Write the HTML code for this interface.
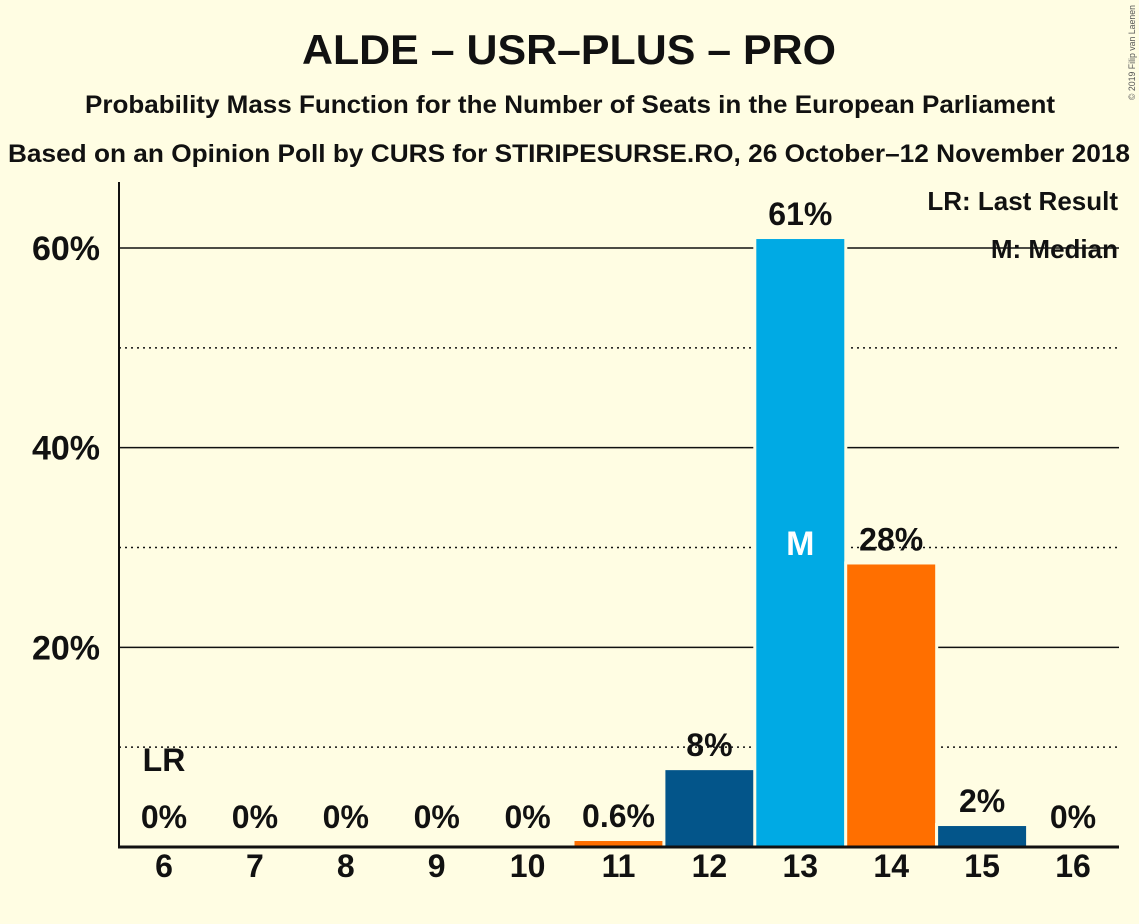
<!DOCTYPE html>
<html><head><meta charset="utf-8"><style>
html,body{margin:0;padding:0;background:#FFFDE3;}
svg{display:block;font-family:"Liberation Sans",sans-serif;}
</style></head><body>
<svg id="chart" width="1139" height="924" viewBox="0 0 1139 924" xmlns="http://www.w3.org/2000/svg">
<rect width="1139" height="924" fill="#FFFDE3"/>
<text x="569" y="64" text-anchor="middle" font-size="42" font-weight="bold" fill="#111" textLength="534" lengthAdjust="spacingAndGlyphs">ALDE – USR–PLUS – PRO</text>
<text x="570" y="113" text-anchor="middle" font-size="25" font-weight="bold" fill="#111" textLength="970" lengthAdjust="spacingAndGlyphs">Probability Mass Function for the Number of Seats in the European Parliament</text>
<text x="569" y="162" text-anchor="middle" font-size="25" font-weight="bold" fill="#111" textLength="1122" lengthAdjust="spacingAndGlyphs">Based on an Opinion Poll by CURS for STIRIPESURSE.RO, 26 October–12 November 2018</text>
<text transform="translate(1135,100) rotate(-90)" font-size="9" fill="#555" textLength="95" lengthAdjust="spacingAndGlyphs">© 2019 Filip van Laenen</text>
<g id="grid"></g>
<g id="bars"></g>
<g id="labels"></g>
<line x1="119" y1="182" x2="119" y2="847" stroke="#111" stroke-width="2"/>
<line x1="118" y1="847" x2="1119" y2="847" stroke="#111" stroke-width="3"/>
<text x="1118" y="210" text-anchor="end" font-size="26" font-weight="bold" fill="#111">LR: Last Result</text>
<text x="1118" y="258" text-anchor="end" font-size="26" font-weight="bold" fill="#111">M: Median</text>
</svg>
<script>
const seats = [6,7,8,9,10,11,12,13,14,15,16];
const probs = [0,0,0,0,0,0.6,7.7,60.9,28.3,2.1,0];
const probLabels = ["0%","0%","0%","0%","0%","0.6%","8%","61%","28%","2%","0%"];
const barParty = ["d","d","d","d","d","o","d","l","o","d","d"];
const yTicks = [20,40,60];
const yMinor = [10,30,50];
const lastResultSeat = 6;
const medianSeat = 13;

const NS="http://www.w3.org/2000/svg";
const colors={d:"#03558A",l:"#00AAE4",o:"#FF6F00"};
const y=v=>847-v*9.983;
const x=s=>164+(s-6)*90.9;
const bw=88;
function mk(tag,attrs,parent,text){const e=document.createElementNS(NS,tag);for(const k in attrs)e.setAttribute(k,attrs[k]);if(text!==undefined)e.textContent=text;parent.appendChild(e);return e;}
const grid=document.getElementById('grid'),bars=document.getElementById('bars'),labels=document.getElementById('labels');
yMinor.forEach(v=>{
  const l=mk('line',{x1:119,x2:1119,y1:y(v),y2:y(v),stroke:'#111','stroke-width':1.5,'stroke-dasharray':'2,4'},grid);
  
  
});
yTicks.forEach(v=>{
  const l=mk('line',{x1:119,x2:1119,y1:y(v),y2:y(v),stroke:'#111','stroke-width':1.5},grid);
  
  
  const t=mk('text',{x:100,y:y(v)+12,'text-anchor':'end','font-size':34,'font-weight':'bold',fill:'#111'},labels,v+'%');
  
  
});
seats.forEach((s,i)=>{
  const cx=x(s);
  if(probs[i]>0){
    const bg=mk('rect',{x:cx-bw/2-3,y:y(probs[i])-3,width:bw+6,height:847-y(probs[i])+3,fill:'#FFFDE3'},bars);
    
    
    const r=mk('rect',{x:cx-bw/2,y:y(probs[i]),width:bw,height:847-y(probs[i]),fill:colors[barParty[i]]},bars);
    
    
  }
  const t=mk('text',{x:cx,y:probs[i]>0?y(probs[i])-14:828,'text-anchor':'middle','font-size':32,'font-weight':'bold',fill:'#111'},labels,probLabels[i]);
  
  
  const xt=mk('text',{x:cx,y:877,'text-anchor':'middle','font-size':32,'font-weight':'bold',fill:'#111'},labels,String(s));
  
  
  if(s===lastResultSeat){
    const lr=mk('text',{x:cx,y:771,'text-anchor':'middle','font-size':32,'font-weight':'bold',fill:'#111'},labels,'LR');
    
    
  }
  if(s===medianSeat){
    const m=mk('text',{x:cx,y:y(probs[i]/2)+12,'text-anchor':'middle','font-size':34,'font-weight':'bold',fill:'#fff'},labels,'M');
    
    
  }
});
</script>
</body></html>
